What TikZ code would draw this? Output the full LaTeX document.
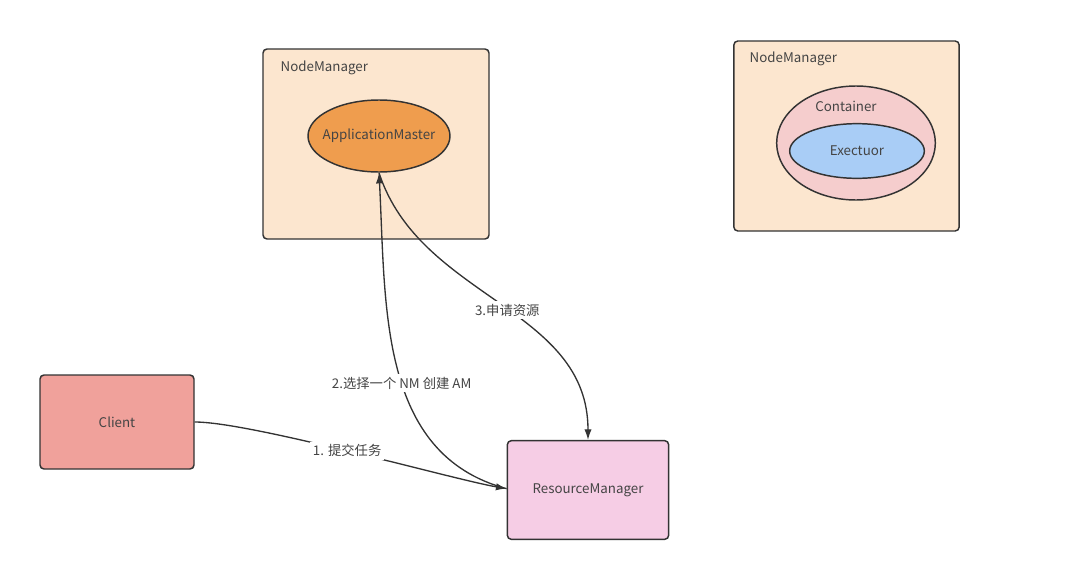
\documentclass[tikz,border=0pt]{standalone}
\usepackage{fontspec}
\setmainfont{Noto Sans CJK SC}
\usetikzlibrary{arrows.meta,positioning,shapes.geometric}
\definecolor{nmfill}{HTML}{FCE6CF}
\definecolor{amfill}{HTML}{EF9D4E}
\definecolor{ctfill}{HTML}{F5CDCD}
\definecolor{exfill}{HTML}{A9CDF6}
\definecolor{clfill}{HTML}{F0A19B}
\definecolor{rmfill}{HTML}{F6CDE5}
\definecolor{edge}{HTML}{333333}
\definecolor{txt}{HTML}{444444}
\tikzset{
 txtfont/.style={font=\fontsize{10}{12}\selectfont,text=txt},
 box/.style={draw=edge,line width=1.1pt,rounded corners=3pt,align=center,txtfont},
 oval/.style={draw=edge,ellipse,line width=1.1pt,inner sep=0pt,txtfont},
 arrow/.style={-{Latex[length=8pt,width=5.5pt]},line width=1pt,draw=edge},
 lbl/.style={fill=white,inner sep=2pt,txtfont}
}
\begin{document}
\begin{tikzpicture}[x=0.75pt,y=-0.75pt]
\useasboundingbox (0,0) rectangle (1067,564);
% NodeManager with AM
\node[box,fill=nmfill,minimum width=169.5pt,minimum height=142.5pt] (nma) at (376,144) {};
\node[anchor=west,txtfont] (nmat) at (276,68) {NodeManager};
\node[oval,fill=amfill,minimum width=106.5pt,minimum height=54pt,
      label={[txtfont]center:ApplicationMaster}] (am) at (379,136) {};
% NodeManager with container
\node[box,fill=nmfill,minimum width=169pt,minimum height=142.5pt] (nmb) at (846.5,136) {};
\node[anchor=west,txtfont] (nmbt) at (745,59) {NodeManager};
\node[oval,fill=ctfill,minimum width=119pt,minimum height=85.5pt] (ct) at (856,143) {};
\node[txtfont] (ctt) at (846,106) {Container};
\node[oval,fill=exfill,minimum width=101pt,minimum height=41pt,
      label={[txtfont]center:Exectuor}] (ex) at (857,151) {};
% client and RM
\node[box,fill=clfill,minimum width=115.5pt,minimum height=70.5pt] (cl) at (117,422) {Client};
\node[box,fill=rmfill,minimum width=121pt,minimum height=74pt] (rm) at (588,490) {ResourceManager};
% arrows
\draw[arrow] (cl.east) to[out=0,in=170,looseness=0.45] node[lbl,pos=0.49] {1. 提交任务} ([yshift=1pt]rm.west);
\draw[arrow] ([yshift=1pt]rm.west) to[out=165,in=-87] node[lbl,pos=0.455] {2.选择一个 NM 创建 AM} (am.south);
\draw[arrow] (am.south) to[out=-72,in=90] node[lbl,pos=0.53] {3.申请资源} (rm.north);
\end{tikzpicture}
\end{document}
